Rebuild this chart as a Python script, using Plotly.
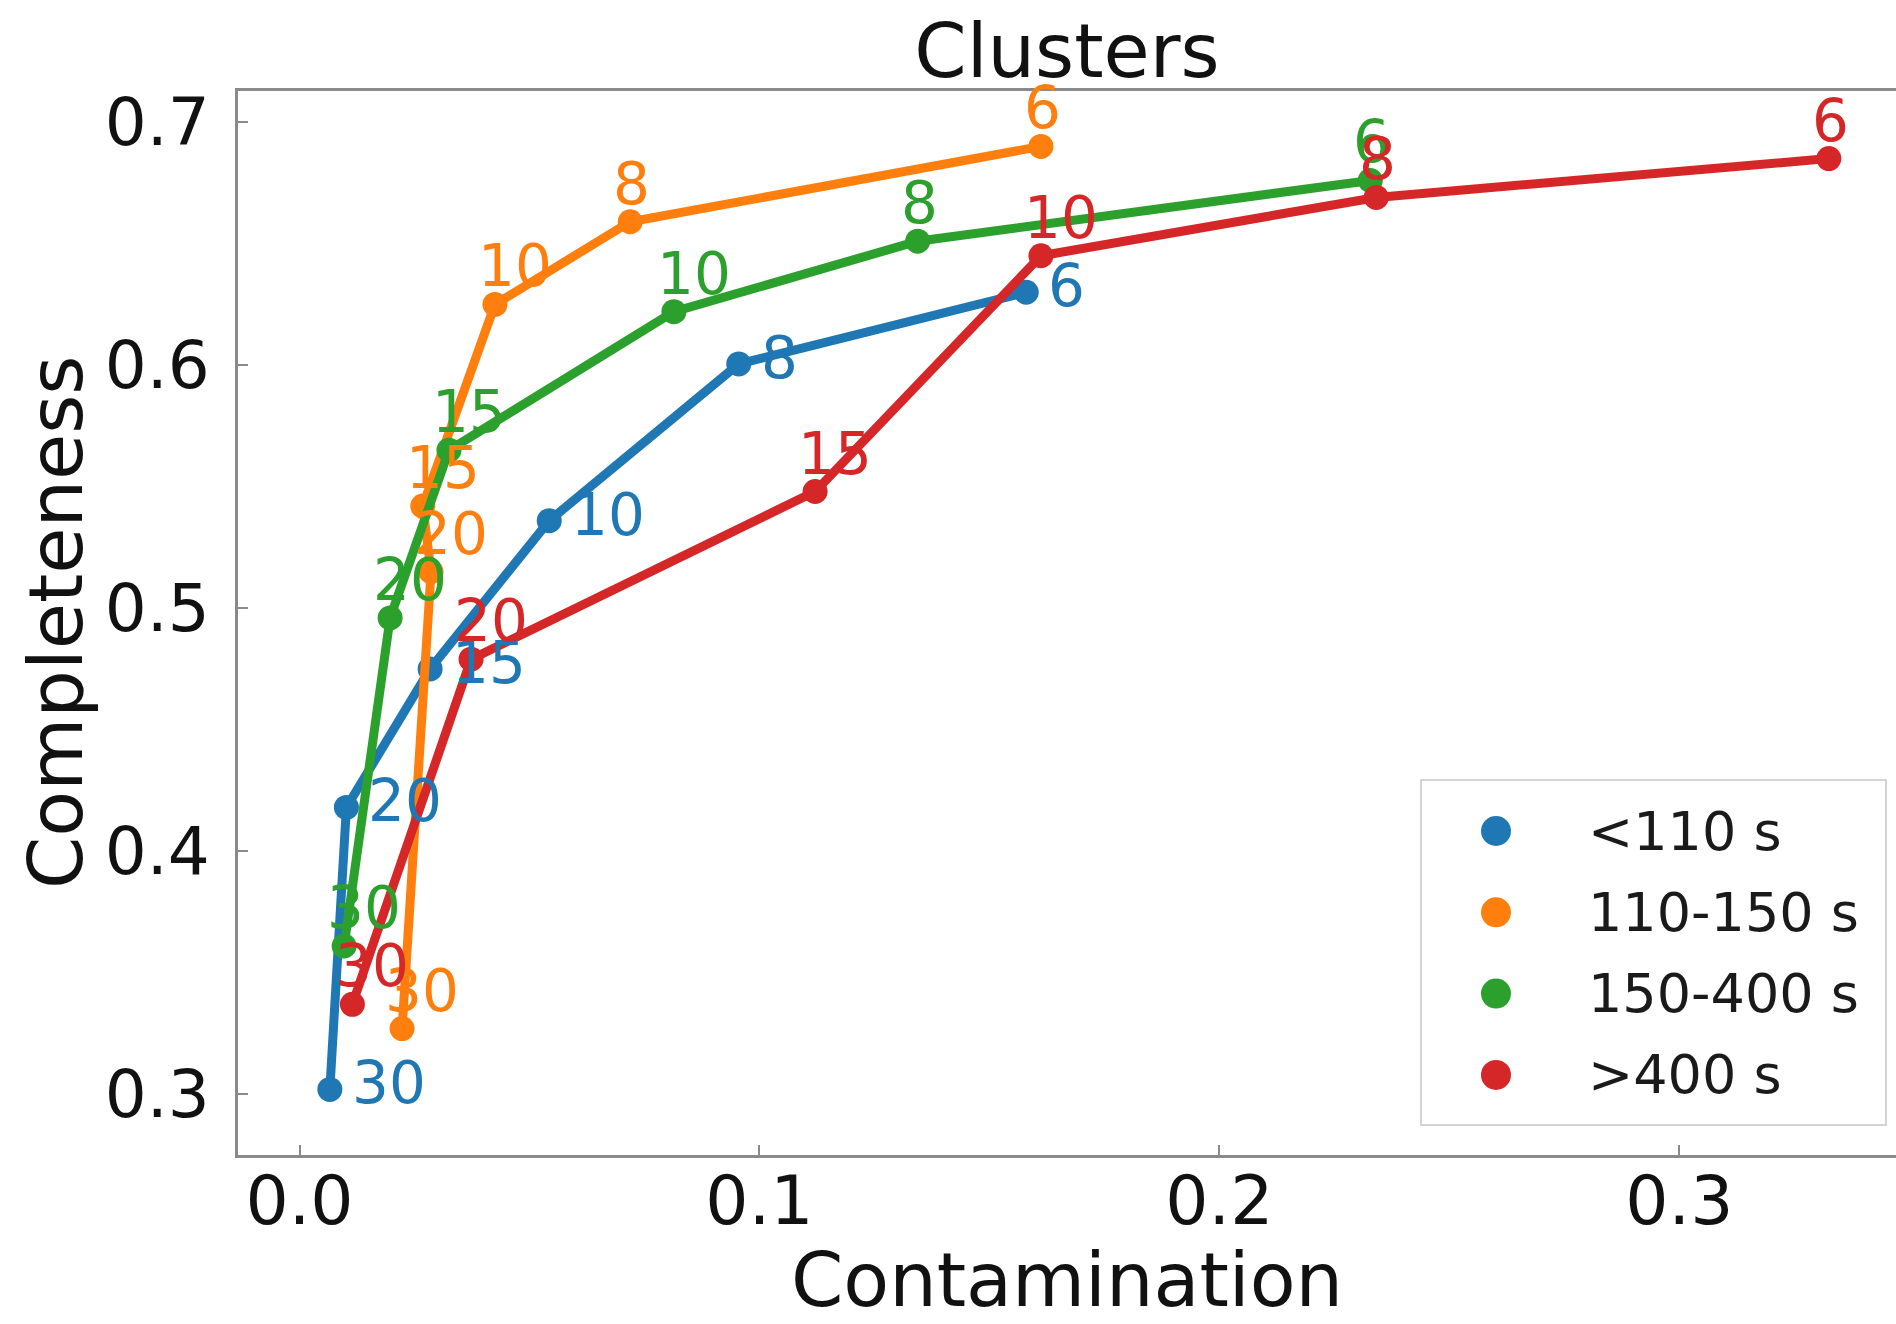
import plotly.graph_objects as go

# ---------------- data ----------------
series_names = ["<110 s", "110-150 s", "150-400 s", ">400 s"]
colors = ["#1f77b4", "#ff7f0e", "#2ca02c", "#d62728"]
point_labels = ["30", "20", "15", "10", "8", "6"]

blue_x = [0.0066, 0.0102, 0.0284, 0.0543, 0.0955, 0.1580]
blue_y = [0.302, 0.418, 0.475, 0.536, 0.6005, 0.630]
orange_x = [0.0223, 0.0286, 0.0268, 0.0425, 0.0719, 0.1612]
orange_y = [0.327, 0.515, 0.542, 0.625, 0.659, 0.690]
green_x = [0.0097, 0.0197, 0.0325, 0.0814, 0.1344, 0.2328]
green_y = [0.361, 0.496, 0.565, 0.622, 0.651, 0.676]
red_x = [0.0115, 0.0373, 0.1121, 0.1612, 0.2341, 0.3325]
red_y = [0.337, 0.479, 0.548, 0.645, 0.669, 0.685]

x_ticks = [0.0, 0.1, 0.2, 0.3]
y_ticks = [0.3, 0.4, 0.5, 0.6, 0.7]

all_x = [blue_x, orange_x, green_x, red_x]
all_y = [blue_y, orange_y, green_y, red_y]

# ---------------- layout constants ----------------
W, H = 1896, 1324
ML, MR, MT, MB = 238, 0, 91, 169
PW, PH = W - ML - MR, H - MT - MB
FONT = "DejaVu Sans"
AXIS_COL = "#8a8a8a"


def px_x(p):
    return (p - ML) / PW


def px_y(p):
    return (H - MB - p) / PH


fig = go.Figure()

for xs, ys, col, name in zip(all_x, all_y, colors, series_names):
    fig.add_trace(go.Scatter(
        x=xs, y=ys, mode="lines+markers", name=name,
        line=dict(color=col, width=9),
        marker=dict(color=col, size=25),
        showlegend=False, cliponaxis=False,
    ))

annotations = []
for i, (xs, ys, col) in enumerate(zip(all_x, all_y, colors)):
    for xv, yv, lab in zip(xs, ys, point_labels):
        if i == 0:
            xs_, ys_ = 20, 6
        else:
            xs_, ys_ = -19, 38
        annotations.append(dict(
            x=xv, y=yv, text=lab, showarrow=False,
            xanchor="left", yanchor="middle", xshift=xs_, yshift=ys_,
            font=dict(family=FONT, size=58, color=col),
        ))

# y-axis title placed explicitly (matplotlib-like position)
annotations.append(dict(
    x=px_x(56), y=0.5, xref="paper", yref="paper", text="Completeness",
    textangle=-90, showarrow=False, xanchor="center", yanchor="middle",
    font=dict(family=FONT, size=75, color="#111111"),
))

# manual legend (matplotlib-like)
shapes = [dict(
    type="rect", xref="paper", yref="paper", layer="above",
    x0=px_x(1421), x1=px_x(1886), y0=px_y(1125), y1=px_y(780),
    line=dict(color="#d4d4d4", width=2), fillcolor="rgba(255,255,255,0.85)",
)]
for k, (name, col) in enumerate(zip(series_names, colors)):
    cy = 831 + 81.3 * k
    cx = 1496
    r = 15
    shapes.append(dict(
        type="circle", xref="paper", yref="paper", layer="above",
        x0=px_x(cx - r), x1=px_x(cx + r), y0=px_y(cy + r), y1=px_y(cy - r),
        fillcolor=col, line=dict(color=col, width=0),
    ))
    annotations.append(dict(
        x=px_x(1586), y=px_y(cy), xref="paper", yref="paper", text=name,
        showarrow=False, xanchor="left", yanchor="middle",
        font=dict(family=FONT, size=54, color="#1a1a1a"),
    ))

fig.update_layout(
    width=W, height=H,
    margin=dict(l=ML, r=MR, t=MT, b=MB, autoexpand=False),
    paper_bgcolor="white", plot_bgcolor="white",
    font=dict(family=FONT, color="#111111"),
    title=dict(text="Clusters", x=0.5, xref="paper", xanchor="center",
               y=1 - 51 / H, yref="container", yanchor="middle",
               font=dict(family=FONT, size=75, color="#111111")),
    showlegend=False,
    annotations=annotations,
    shapes=shapes,
)

fig.update_xaxes(
    range=[-0.01337, 0.3471], tickvals=x_ticks, tickformat=".1f",
    showgrid=False, zeroline=False,
    showline=True, linecolor=AXIS_COL, linewidth=3, mirror=True,
    ticks="inside", ticklen=10, tickwidth=2, tickcolor=AXIS_COL,
    tickfont=dict(family=FONT, size=68, color="#111111"),
    ticklabelstandoff=-16,
    title=dict(text="Contamination", font=dict(family=FONT, size=75, color="#111111"), standoff=36),
)
fig.update_yaxes(
    range=[0.275, 0.7128], tickvals=y_ticks, tickformat=".1f",
    showgrid=False, zeroline=False,
    showline=True, linecolor=AXIS_COL, linewidth=3, mirror=False,
    ticks="inside", ticklen=10, tickwidth=2, tickcolor=AXIS_COL,
    tickfont=dict(family=FONT, size=66, color="#111111"),
    ticklabelstandoff=12,
)

fig.write_html("out.html")
